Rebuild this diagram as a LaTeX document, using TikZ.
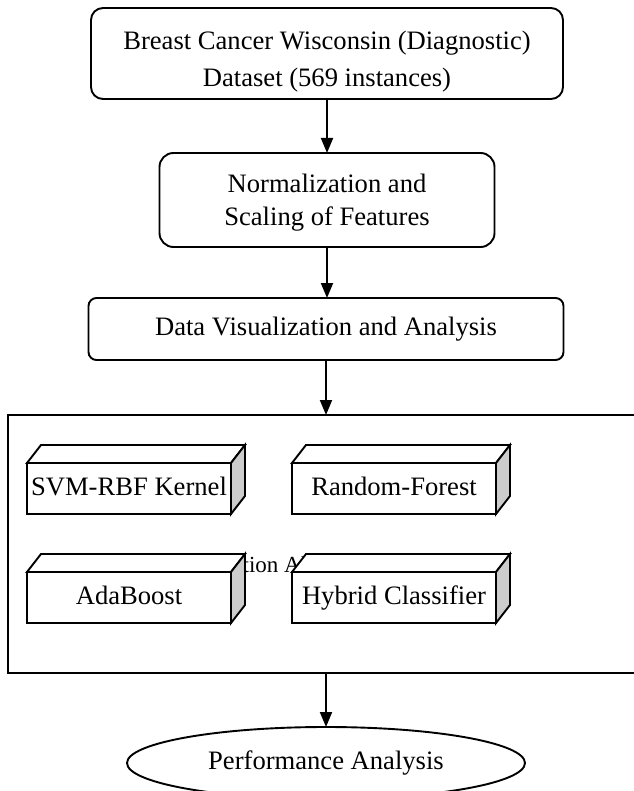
\documentclass[tikz,border=0pt]{standalone}
\usepackage{fontspec}
\setmainfont{Liberation Serif}
\usetikzlibrary{arrows.meta,shapes.geometric}
\tikzset{
  base/.style={draw=black, line width=1.9pt, fill=white, outer sep=0pt, inner sep=0pt, align=center,
    font=\fontsize{26.6}{36}\selectfont},
  flowbox/.style={base, rectangle},
  oneline/.style={text height=19pt, text depth=6pt},
  cube/.style={base, oneline, rectangle, minimum width=204pt, minimum height=51pt},
  conn/.style={line width=1.9pt, -{Triangle[length=15pt,width=12pt]}},
  sideface/.style={draw=black, line width=1.9pt, fill=gray!40, line join=miter},
  topface/.style={draw=black, line width=1.9pt, fill=white, line join=miter}
}
\newcommand\cubefaces[1]{%
  \filldraw[topface] (#1.north west) -- ([shift={(14,-18)}]#1.north west) -- ([shift={(14,-18)}]#1.north east) -- (#1.north east) -- cycle;
  \filldraw[sideface] (#1.north east) -- ([shift={(14,-18)}]#1.north east) -- ([shift={(14,-18)}]#1.south east) -- (#1.south east) -- cycle;
}
\newcommand\twolines[3]{\raisebox{-#1}[\height][\depth]{\begin{tabular}{@{}c@{}}#2\\#3\end{tabular}}}
\begin{document}
\begin{tikzpicture}[x=1pt,y=-1pt]
\useasboundingbox (0,0) rectangle (633,791);
\node[flowbox, rounded corners=12pt, minimum width=472pt, minimum height=91pt] (b1) at (327,53.5)
  {\fontsize{26.6}{37}\selectfont\twolines{7pt}{Breast Cancer Wisconsin (Diagnostic)}{Dataset (569 instances)}};
\node[flowbox, rounded corners=14pt, minimum width=335pt, minimum height=94pt] (b2) at (327,200)
  {\fontsize{26.6}{33}\selectfont\twolines{2.5pt}{Normalization and}{Scaling of Features}};
\node[flowbox, oneline, rounded corners=8pt, minimum width=475pt, minimum height=62pt] (b3) at (326,329)
  {Data Visualization and Analysis};
\node[flowbox, minimum width=642pt, minimum height=258pt] (alg) at (329,544) {};
\node[font=\fontsize{23}{27}\selectfont, inner sep=0pt] (algl) at (270.5,567) {Classification Algorithms};
\node[cube] (svm) at (129,488.5) {SVM-RBF Kernel};
\cubefaces{svm}
\node[cube] (rf) at (394,488.5) {Random-Forest};
\cubefaces{rf}
\node[cube] (ada) at (129,597.5) {AdaBoost};
\cubefaces{ada}
\node[cube] (hyb) at (394,597.5) {Hybrid Classifier};
\cubefaces{hyb}
\node[base, oneline, ellipse, minimum width=398pt, minimum height=72pt] (perf) at (326,763) {Performance Analysis};
\draw[conn] (b1.south) -- (b1.south |- b2.north);
\draw[conn] (b2.south) -- (b2.south |- b3.north);
\draw[conn] (b3.south) -- (b3.south |- alg.north);
\draw[conn] (perf.north |- alg.south) -- (perf.north);
\end{tikzpicture}
\end{document}
